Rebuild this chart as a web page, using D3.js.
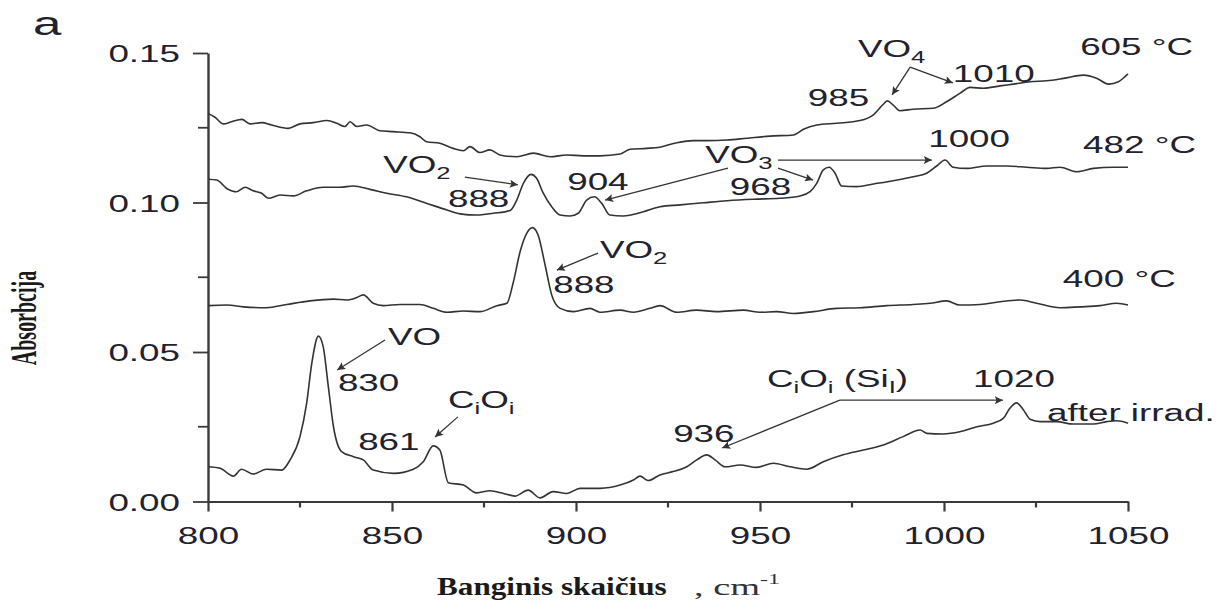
<!DOCTYPE html>
<html>
<head>
<meta charset="utf-8">
<script src="https://cdn.jsdelivr.net/npm/d3@7"></script>
<style>
  body { margin: 0; background: #fff; }
  text { font-family: "Liberation Sans", Arial, sans-serif; fill: #22222e; }
  text.serif { font-family: "Liberation Serif", "Times New Roman", serif; font-weight: bold; fill: #1a1a1a; }
  text.unit { font-family: "Liberation Serif", "Times New Roman", serif; fill: #333; }
</style>
</head>
<body>
<div id="chart"></div>
<script>
// wavenumber (cm-1) / absorbance
var wn605 = [800, 801.9, 804.2, 806.4, 809.2, 811.4, 814.6, 817.3, 821.8, 825, 828.6, 832.3, 835, 837.2, 838.6, 840.4, 843.1, 846.7, 850.4, 854.9, 857.6, 859.4, 863, 866.6, 869.4, 871.2, 873.9, 876.6, 879.3, 883.9, 888.4, 893, 897.5, 902, 906.5, 912, 914.7, 919.2, 922.8, 927.4, 931.9, 935.5, 941, 946.4, 952.7, 959.1, 961.8, 965.4, 970.8, 977.2, 980.8, 983.3, 984.6, 986.2, 988, 991.6, 997, 1000.7, 1004.3, 1007.1, 1010.7, 1015.2, 1018.8, 1023.4, 1027.9, 1032.5, 1037.9, 1041.6, 1044.7, 1047.4, 1049.2, 1050];
var abs605 = [0.1298, 0.1285, 0.1263, 0.127, 0.1278, 0.1263, 0.1267, 0.1259, 0.1248, 0.1263, 0.1267, 0.1274, 0.1265, 0.1254, 0.127, 0.1254, 0.1259, 0.124, 0.1237, 0.1233, 0.122, 0.1203, 0.1198, 0.1181, 0.1173, 0.1187, 0.1167, 0.1176, 0.1159, 0.1153, 0.1165, 0.1153, 0.1159, 0.1156, 0.1156, 0.1162, 0.1178, 0.1181, 0.1185, 0.12, 0.1207, 0.1207, 0.1209, 0.1215, 0.1222, 0.1226, 0.1245, 0.1259, 0.1265, 0.1274, 0.1293, 0.1326, 0.134, 0.1326, 0.1307, 0.1312, 0.1315, 0.1337, 0.1365, 0.1385, 0.1382, 0.139, 0.1396, 0.1404, 0.1407, 0.1415, 0.1426, 0.1415, 0.1396, 0.1404, 0.1421, 0.143];

var wn482 = [800, 802.4, 805.1, 807.8, 810.1, 812.3, 814.6, 816.4, 819.6, 823.2, 826.8, 831.3, 835.9, 839.5, 844, 848.6, 854, 859.5, 864.9, 868.5, 873, 877.5, 882.1, 883.9, 885.7, 887.8, 889.3, 891.1, 893.4, 895.7, 898.4, 900.6, 902.9, 905, 907, 909.2, 912.8, 918.3, 922.8, 928.3, 934.6, 941, 948.2, 955.4, 960.9, 963.6, 965.4, 967.2, 968.8, 970.4, 972.2, 976.3, 980.8, 986.2, 991.6, 995.3, 998, 1000.3, 1002.5, 1006.1, 1011.6, 1017, 1022.5, 1027.9, 1031.5, 1036.1, 1040.6, 1046, 1050];
var abs482 = [0.1078, 0.1075, 0.1047, 0.1036, 0.1051, 0.1039, 0.1031, 0.1014, 0.1025, 0.1022, 0.1039, 0.1051, 0.1051, 0.1055, 0.1044, 0.1031, 0.1019, 0.0997, 0.0975, 0.0962, 0.0958, 0.0964, 0.0973, 0.1008, 0.1064, 0.1094, 0.1081, 0.1031, 0.0986, 0.0958, 0.0955, 0.0964, 0.1008, 0.1019, 0.0997, 0.0958, 0.0955, 0.0969, 0.0986, 0.0992, 0.0999, 0.1006, 0.1011, 0.1014, 0.1022, 0.1036, 0.1064, 0.1109, 0.1118, 0.1098, 0.1055, 0.1053, 0.1062, 0.1073, 0.1086, 0.1098, 0.1122, 0.1142, 0.1118, 0.1114, 0.1122, 0.1122, 0.1118, 0.1114, 0.1118, 0.1103, 0.1114, 0.1118, 0.1118];

var wn400 = [800, 805.1, 809.6, 815.9, 821.4, 827.7, 834.1, 837.7, 840.4, 842.2, 844.9, 847.6, 852.2, 857.6, 861.2, 864.9, 869.4, 873.9, 878.5, 881.2, 883, 884.8, 886.6, 888.2, 889.7, 891.6, 893.4, 895.7, 899.3, 903.8, 906.5, 912, 915.6, 920.1, 922.8, 927.4, 932.8, 938.2, 945.5, 950, 954.5, 959.1, 964.5, 970.8, 977.2, 984.4, 991.6, 996.2, 1000.7, 1004.3, 1009.8, 1015.2, 1020.7, 1025.2, 1031.5, 1037, 1042.4, 1046.9, 1050];
var abs400 = [0.0655, 0.0657, 0.0651, 0.0648, 0.0659, 0.0671, 0.0677, 0.0674, 0.0682, 0.0691, 0.0663, 0.0655, 0.0659, 0.0659, 0.0646, 0.0633, 0.0637, 0.0635, 0.0655, 0.0663, 0.0735, 0.0835, 0.0897, 0.0916, 0.0891, 0.0791, 0.0691, 0.0646, 0.0635, 0.0646, 0.0633, 0.064, 0.0633, 0.0646, 0.0655, 0.0633, 0.064, 0.0635, 0.064, 0.0633, 0.0635, 0.0629, 0.0635, 0.0646, 0.0648, 0.0655, 0.0659, 0.0663, 0.0671, 0.0657, 0.0659, 0.0668, 0.0674, 0.0663, 0.0648, 0.0651, 0.0655, 0.0663, 0.0657];

var wnIrr = [800, 803.3, 806.9, 809.1, 812.3, 815.9, 820, 822.3, 825, 826.8, 828.2, 830, 831.3, 832.7, 834.1, 836.3, 839.5, 842.2, 844.9, 850.4, 855.8, 858.5, 861.2, 863, 865.3, 869.4, 873, 876.6, 880.3, 883.4, 887, 890.2, 893.8, 897.5, 901.1, 906.5, 912, 915.6, 917.4, 919.6, 922.8, 926.4, 930.1, 932.8, 935.5, 937.8, 940.5, 944.6, 949.1, 953.6, 958.2, 962.7, 967.2, 972.6, 978.1, 983.5, 988.9, 993.5, 995.3, 999.8, 1004.3, 1008.9, 1013.4, 1016.1, 1017.9, 1019.7, 1021.5, 1023.4, 1026.1, 1030.6, 1035.1, 1040.6, 1044.2, 1046.9, 1050];
var absIrr = [0.0116, 0.0111, 0.0085, 0.0108, 0.0092, 0.0108, 0.0105, 0.0139, 0.0217, 0.0328, 0.0462, 0.0553, 0.0518, 0.0384, 0.025, 0.0167, 0.015, 0.0139, 0.0105, 0.0094, 0.0108, 0.0133, 0.0186, 0.0172, 0.0063, 0.0055, 0.0029, 0.0036, 0.0027, 0.0018, 0.0038, 0.0012, 0.0033, 0.0027, 0.0044, 0.0044, 0.0055, 0.0072, 0.0085, 0.007, 0.0089, 0.01, 0.0116, 0.0139, 0.0156, 0.0139, 0.0116, 0.0122, 0.0114, 0.0128, 0.0116, 0.0108, 0.0133, 0.0156, 0.0172, 0.0189, 0.0217, 0.0239, 0.0228, 0.0226, 0.0233, 0.025, 0.0262, 0.0278, 0.0312, 0.033, 0.0308, 0.0275, 0.0267, 0.0267, 0.0259, 0.0259, 0.0267, 0.027, 0.0262];

var xTicks = [800, 850, 900, 950, 1000, 1050];
var xMinor = [825, 875, 925, 975, 1025];
var yTicks = [0, 0.05, 0.10, 0.15];
var yMinor = [0.025, 0.075, 0.125];
var yTickLabels = ["0.00", "0.05", "0.10", "0.15"];

// text labels: [wavenumber, absorbance, parts] ; parts are [text, isSub]
var curveLabels = [
  [1037.0, 0.1493, [["605 °C", 0]]],
  [1037.8, 0.1166, [["482 °C", 0]]],
  [1032.3, 0.0717, [["400 °C", 0]]],
  [1028.0, 0.0269, [["after irrad.", 0]]]
];
var peakLabels = [
  [976.6, 0.1487, [["VO", 0], ["4", 1]]],
  [1002.4, 0.1403, [["1010", 0]]],
  [963.0, 0.1323, [["985", 0]]],
  [847.6, 0.1099, [["VO", 0], ["2", 1]]],
  [865.2, 0.0985, [["888", 0]]],
  [897.6, 0.1042, [["904", 0]]],
  [935.1, 0.1132, [["VO", 0], ["3", 1]]],
  [941.8, 0.1025, [["968", 0]]],
  [995.7, 0.1186, [["1000", 0]]],
  [906.5, 0.0814, [["VO", 0], ["2", 1]]],
  [893.8, 0.0697, [["888", 0]]],
  [848.9, 0.0523, [["VO", 0]]],
  [835.3, 0.0370, [["830", 0]]],
  [865.2, 0.0313, [["C", 0], ["i", 1], ["O", 0], ["i", 1]]],
  [840.8, 0.0172, [["861", 0]]],
  [926.4, 0.0199, [["936", 0]]],
  [951.9, 0.0383, [["C", 0], ["i", 1], ["O", 0], ["i", 1], [" (Si", 0], ["I", 1], [")", 0]]],
  [1007.9, 0.0383, [["1020", 0]]]
];
// arrows: [fromWn, fromAbs, toWn, toAbs]
var arrows = [
  [990.8, 0.1453, 985.9, 0.1360],
  [990.8, 0.1453, 1002.4, 0.1400],
  [869.8, 0.1085, 884.2, 0.1059],
  [941.3, 0.1115, 907.9, 0.1008],
  [954.9, 0.1115, 964.4, 0.1075],
  [954.9, 0.1142, 996.7, 0.1142],
  [906.0, 0.0831, 894.8, 0.0774],
  [848.1, 0.0540, 835.1, 0.0440],
  [867.9, 0.0283, 861.7, 0.0216],
  [971.7, 0.0339, 939.7, 0.0179],
  [971.7, 0.0339, 1016.0, 0.0339]
];

var width = 1231, height = 606;
var margin = {left: 208, right: 103, top: 53, bottom: 104.5};
var sx = 1.6; // the figure is stretched horizontally

var svg = d3.select("#chart").append("svg")
    .attr("width", width)
    .attr("height", height);

var x = d3.scaleLinear().domain([800, 1050]).range([margin.left, width - margin.right]);
var y = d3.scaleLinear().domain([0, 0.15]).range([height - margin.bottom, margin.top]);

var defs = svg.append("defs");
defs.append("marker")
    .attr("id", "head")
    .attr("viewBox", "0 0 10 10")
    .attr("refX", 10).attr("refY", 5)
    .attr("markerWidth", 12).attr("markerHeight", 8)
    .attr("markerUnits", "userSpaceOnUse")
    .attr("orient", "auto")
    .append("path")
    .attr("d", "M0,0 L10,5 L0,10 L2,5 Z")
    .attr("fill", "#333");

// axes
var yAxis = svg.append("g")
    .attr("transform", "translate(" + margin.left + ",0)")
    .call(d3.axisLeft(y).tickValues(yTicks).tickSize(15).tickSizeOuter(0)
        .tickFormat(function (d, i) { return yTickLabels[i]; }));
yAxis.select(".domain").attr("stroke", "#3a3a3a").attr("stroke-width", 2.4);
yAxis.selectAll(".tick line").attr("stroke", "#3a3a3a").attr("stroke-width", 1.8);
yAxis.selectAll(".tick text")
    .attr("x", null).attr("dy", null)
    .attr("dominant-baseline", "central")
    .attr("font-size", 23)
    .attr("fill", "#22222e")
    .attr("transform", "translate(-28,1) scale(" + sx + ",1)");

yAxis.selectAll(".minor").data(yMinor).enter().append("line")
    .attr("x1", -10).attr("x2", 0)
    .attr("y1", function (d) { return y(d); })
    .attr("y2", function (d) { return y(d); })
    .attr("stroke", "#3a3a3a").attr("stroke-width", 1.8);

var xAxis = svg.append("g")
    .attr("transform", "translate(0," + (height - margin.bottom) + ")")
    .call(d3.axisBottom(x).tickValues(xTicks).tickSize(10).tickSizeOuter(0).tickFormat(d3.format("d")));
xAxis.select(".domain").attr("stroke", "#3a3a3a").attr("stroke-width", 2);
xAxis.selectAll(".tick line").attr("stroke", "#3a3a3a").attr("stroke-width", 2.2);
xAxis.selectAll(".tick text")
    .attr("y", null).attr("dy", null)
    .attr("font-size", 23)
    .attr("fill", "#22222e")
    .attr("transform", "translate(0,42) scale(" + sx + ",1)");

xAxis.selectAll(".minor").data(xMinor).enter().append("line")
    .attr("x1", function (d) { return x(d); })
    .attr("x2", function (d) { return x(d); })
    .attr("y1", 0).attr("y2", 6)
    .attr("stroke", "#3a3a3a").attr("stroke-width", 2.2);

// spectra
var line = d3.line()
    .x(function (d) { return x(d[0]); })
    .y(function (d) { return y(d[1]); })
    .curve(d3.curveMonotoneX);

var series = [[wn605, abs605], [wn482, abs482], [wn400, abs400], [wnIrr, absIrr]];
series.forEach(function (s) {
    var pts = s[0].map(function (w, i) { return [w, s[1][i]]; });
    svg.append("path")
        .datum(pts)
        .attr("d", line)
        .attr("fill", "none")
        .attr("stroke", "#333")
        .attr("stroke-width", 1.6)
        .attr("stroke-linejoin", "round");
});

// arrows
svg.selectAll(".arrow").data(arrows).enter().append("line")
    .attr("class", "arrow")
    .attr("x1", function (d) { return x(d[0]); })
    .attr("y1", function (d) { return y(d[1]); })
    .attr("x2", function (d) { return x(d[2]); })
    .attr("y2", function (d) { return y(d[3]); })
    .attr("stroke", "#333")
    .attr("stroke-width", 1.3)
    .attr("marker-end", "url(#head)");

function addLabel(d) {
    var t = svg.append("text")
        .attr("transform", "translate(" + x(d[0]) + "," + y(d[1]) + ") scale(" + sx + ",1)")
        .attr("font-size", 23);
    var shifted = false;
    d[2].forEach(function (p) {
        var ts = t.append("tspan").text(p[0]);
        if (p[1]) {
            ts.attr("font-size", 16).attr("dy", shifted ? 0 : 6);
            shifted = true;
        } else if (shifted) {
            ts.attr("dy", -6);
            shifted = false;
        }
    });
}
curveLabels.forEach(addLabel);
peakLabels.forEach(addLabel);

// panel letter
svg.append("text")
    .attr("transform", "translate(33,35) scale(1.5,1)")
    .attr("font-size", 34)
    .attr("fill", "#1a1a1a")
    .text("a");

// axis titles
svg.append("text")
    .attr("class", "serif")
    .attr("transform", "translate(36,318) scale(1.75,1) rotate(-90)")
    .attr("text-anchor", "middle")
    .attr("font-size", 20)
    .text("Absorbcija");

svg.append("text")
    .attr("class", "serif")
    .attr("transform", "translate(437,595) scale(1.2,1)")
    .attr("font-size", 26)
    .text("Banginis skaičius");

var unit = svg.append("text")
    .attr("class", "unit")
    .attr("transform", "translate(694,595) scale(1.6,1)")
    .attr("font-size", 24);
unit.append("tspan").text(", cm");
unit.append("tspan").attr("font-size", 15).attr("dy", -11).text("-1");
</script>
</body>
</html>
